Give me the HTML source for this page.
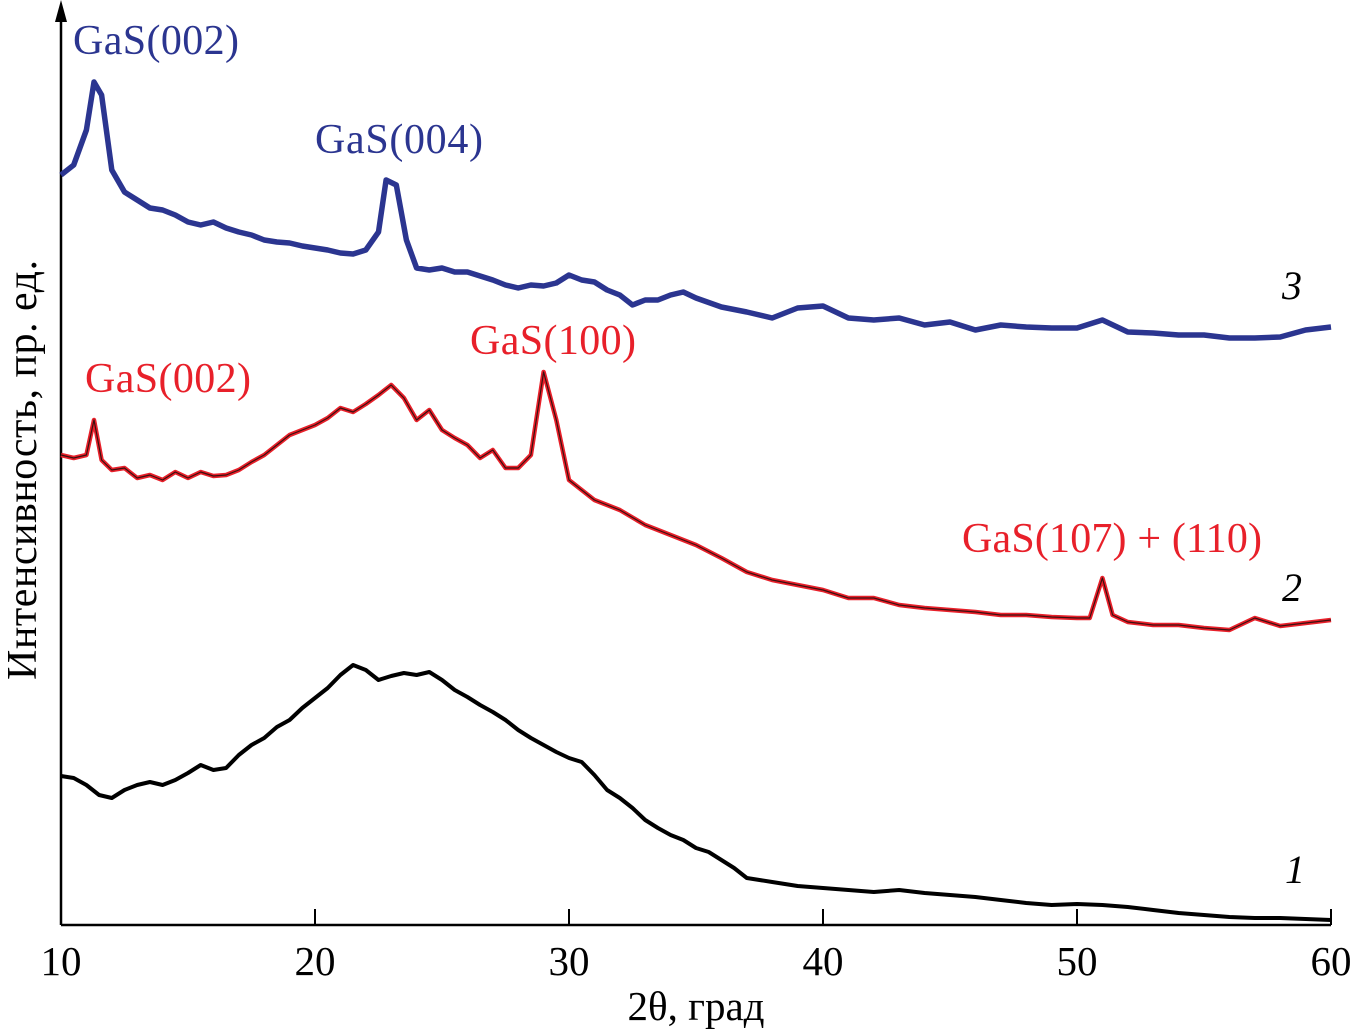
<!DOCTYPE html>
<html><head><meta charset="utf-8"><style>
html,body{margin:0;padding:0;background:#fff;}
svg{display:block;font-family:"Liberation Serif",serif;}
</style></head><body>
<svg id="chart" width="1351" height="1031" viewBox="0 0 1351 1031">
<g id="axes"></g>
<g id="series"></g>
<g id="labels">
<text x="73" y="54" font-size="42" fill="#2b3590" textLength="166">GaS(002)</text>
<text x="315" y="153" font-size="42" fill="#2b3590" textLength="168">GaS(004)</text>
<text x="85" y="392" font-size="42" fill="#e8202a" textLength="166">GaS(002)</text>
<text x="470" y="354" font-size="42" fill="#e8202a" textLength="166">GaS(100)</text>
<text x="962" y="552" font-size="42" fill="#e8202a" textLength="300">GaS(107) + (110)</text>
<text x="1282" y="299" font-size="40" font-style="italic">3</text>
<text x="1282" y="601" font-size="40" font-style="italic">2</text>
<text x="1285" y="883" font-size="40" font-style="italic">1</text>
<text x="696" y="1020" font-size="41" text-anchor="middle">2θ, град</text>
<text transform="translate(36,470) rotate(-90)" font-size="42" text-anchor="middle" textLength="420">Интенсивность, пр. ед.</text>
</g>
</svg>
<script>
const xTicks = [10, 20, 30, 40, 50, 60];
const x1 = [10,10.5,11,11.5,12,12.5,13,13.5,14,14.5,15,15.5,16,16.5,17,17.5,18,18.5,19,19.5,20,20.5,21,21.5,22,22.5,23,23.5,24,24.5,25,25.5,26,26.5,27,27.5,28,28.5,29,29.5,30,30.5,31,31.5,32,32.5,33,33.5,34,34.5,35,35.5,36,36.5,37,37.5,38,38.5,39,39.5,40,41,42,43,44,45,46,47,48,49,50,51,52,53,54,55,56,57,58,59,60];
const y1 = [149,147,140,130,127,135,140,143,140,145,152,160,155,157,170,180,187,198,205,217,227,237,250,260,255,245,249,252,250,253,245,235,228,220,213,205,195,187,180,173,167,163,150,135,127,117,105,97,90,85,77,73,65,57,47,45,43,41,39,38,37,35,33,35,32,30,28,25,22,20,21,20,18,15,12,10,8,7,7,6,5];
const x2 = [10,10.5,11,11.3,11.6,12,12.5,13,13.5,14,14.5,15,15.5,16,16.5,17,17.5,18,18.5,19,19.5,20,20.5,21,21.5,22,22.5,23,23.5,24,24.5,25,25.5,26,26.5,27,27.5,28,28.5,29,29.5,30,30.5,31,32,33,34,35,36,37,38,39,40,41,42,43,44,45,46,47,48,49,50,50.5,51,51.4,52,53,54,55,56,57,58,59,60];
const y2 = [470,467,470,505,465,455,457,447,450,445,453,447,453,449,450,455,463,470,480,490,495,500,507,517,513,521,530,540,527,505,515,495,487,480,467,475,457,457,470,553,505,445,435,425,415,400,390,380,367,353,345,340,335,327,327,320,317,315,313,310,310,308,307,307,347,310,303,300,300,297,295,307,299,302,305];
const x3 = [10,10.5,11,11.3,11.6,12,12.5,13,13.5,14,14.5,15,15.5,16,16.5,17,17.5,18,18.5,19,19.5,20,20.5,21,21.5,22,22.5,22.8,23.2,23.6,24,24.5,25,25.5,26,26.5,27,27.5,28,28.5,29,29.5,30,30.5,31,31.5,32,32.5,33,33.5,34,34.5,35,36,37,38,39,40,41,42,43,44,45,46,47,48,49,50,51,52,53,54,55,56,57,58,59,60];
const y3 = [750,760,795,843,830,755,733,725,717,715,710,703,700,703,697,693,690,685,683,682,679,677,675,672,671,675,693,745,740,685,657,655,657,653,653,649,645,640,637,640,639,642,650,645,643,635,630,620,625,625,630,633,627,618,613,607,617,619,607,605,607,600,603,595,600,598,597,597,605,593,592,590,590,587,587,588,595,598];

const NS = "http://www.w3.org/2000/svg";
const X0 = 61, X1 = 1331, Y0 = 925;
function xs(v){ return X0 + (v - 10) / 50 * (X1 - X0); }
function ys(v){ return Y0 - v; }

const axes = document.getElementById('axes');
function mk(tag, attrs, parent){ const e = document.createElementNS(NS, tag); for (const k in attrs) e.setAttribute(k, attrs[k]); parent.appendChild(e); return e; }

const xAxis = mk('line', {x1:X0, y1:Y0, x2:X1, y2:Y0, stroke:'#000', 'stroke-width':2.5}, axes);


const yAxis = mk('line', {x1:X0, y1:Y0, x2:X0, y2:14, stroke:'#000', 'stroke-width':2.5}, axes);


const arrow = mk('polygon', {points:`${X0-6},22 ${X0},0 ${X0+6},22`, fill:'#000'}, axes);



xTicks.forEach(t => {
  const x = xs(t);
  if (t !== 10) {
    const tk = mk('line', {x1:x, y1:Y0, x2:x, y2:Y0-16, stroke:'#000', 'stroke-width':2}, axes);
    
    
  }
  const lb = mk('text', {x:x, y:975, 'font-size':41, 'text-anchor':'middle'}, axes);
  lb.textContent = t;
  
  
});

const series = document.getElementById('series');
function path(xa, ya){ return xa.map((x,i)=>(i?'L':'M')+xs(x).toFixed(1)+','+ys(ya[i]).toFixed(1)).join(' '); }

const p1 = mk('path', {d:path(x1,y1), fill:'none', stroke:'#000', 'stroke-width':4, 'stroke-linejoin':'round'}, series);


const p2 = mk('path', {d:path(x2,y2), fill:'none', stroke:'#e8202a', 'stroke-width':4.5, 'stroke-linejoin':'round'}, series);


const p2c = mk('path', {d:path(x2,y2), fill:'none', stroke:'#3a1010', 'stroke-width':1.2, 'stroke-linejoin':'round'}, series);


const p3 = mk('path', {d:path(x3,y3), fill:'none', stroke:'#2b3590', 'stroke-width':5.5, 'stroke-linejoin':'round'}, series);


</script>
</body></html>
